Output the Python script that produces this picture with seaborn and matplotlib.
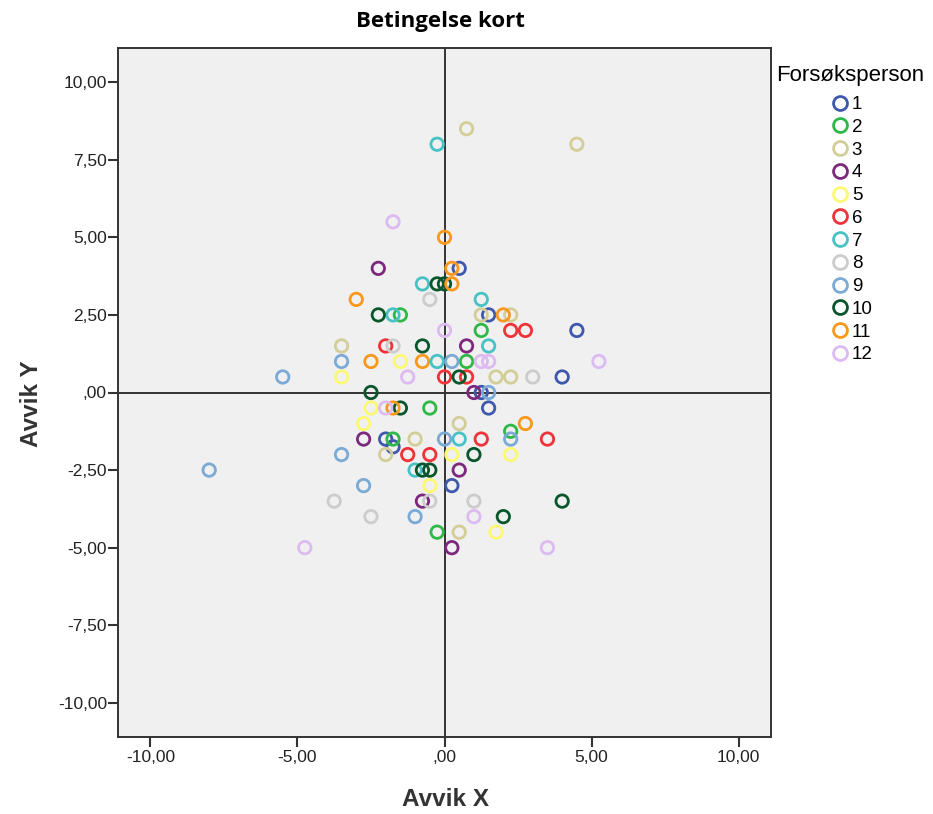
import numpy as np
import pandas as pd
import seaborn as sns
import matplotlib.pyplot as plt
from matplotlib.lines import Line2D
from matplotlib.ticker import FuncFormatter

forsoksperson = (
    [1] * 9 + [2] * 7 + [3] * 11 + [4] * 7 + [5] * 8 + [6] * 9
    + [7] * 8 + [8] * 7 + [9] * 10 + [10] * 12 + [11] * 9 + [12] * 10
)
avvik_x = [
    # 1
    0.5, 1.5, 4.5, 1.25, 4.0, 1.5, -2.0, -1.75, 0.25,
    # 2
    -1.5, 1.25, 0.75, -0.5, -1.75, 2.25, -0.25,
    # 3
    0.75, 4.5, 1.25, 2.25, 1.75, 2.25, -3.5, -1.0, 0.5, -2.0, 0.5,
    # 4
    -2.25, 0.75, 1.0, -2.75, 0.5, -0.75, 0.25,
    # 5
    -1.5, -3.5, -2.5, -2.75, 0.25, 2.25, -0.5, 1.75,
    # 6
    2.25, 2.75, -2.0, 0.0, 0.75, 1.25, 3.5, -1.25, -0.5,
    # 7
    -0.25, -0.75, 1.25, -1.75, 1.5, -0.25, 0.5, -1.0,
    # 8
    -0.5, -1.75, 3.0, -3.75, -0.5, -2.5, 1.0,
    # 9
    0.25, -3.5, -5.5, 1.5, 0.0, 2.25, -3.5, -2.75, -1.0, -8.0,
    # 10
    -0.25, 0.0, -2.25, -0.75, 0.5, -2.5, -1.5, 1.0, -0.75, -0.5, 4.0, 2.0,
    # 11
    0.0, 0.25, 0.25, -3.0, 2.0, -2.5, -0.75, -1.75, 2.75,
    # 12
    -1.75, 0.0, 1.25, 1.5, 5.25, -1.25, -2.0, 1.0, -4.75, 3.5,
]
avvik_y = [
    # 1
    4.0, 2.5, 2.0, 0.0, 0.5, -0.5, -1.5, -1.75, -3.0,
    # 2
    2.5, 2.0, 1.0, -0.5, -1.5, -1.25, -4.5,
    # 3
    8.5, 8.0, 2.5, 2.5, 0.5, 0.5, 1.5, -1.5, -1.0, -2.0, -4.5,
    # 4
    4.0, 1.5, 0.0, -1.5, -2.5, -3.5, -5.0,
    # 5
    1.0, 0.5, -0.5, -1.0, -2.0, -2.0, -3.0, -4.5,
    # 6
    2.0, 2.0, 1.5, 0.5, 0.5, -1.5, -1.5, -2.0, -2.0,
    # 7
    8.0, 3.5, 3.0, 2.5, 1.5, 1.0, -1.5, -2.5,
    # 8
    3.0, 1.5, 0.5, -3.5, -3.5, -4.0, -3.5,
    # 9
    1.0, 1.0, 0.5, 0.0, -1.5, -1.5, -2.0, -3.0, -4.0, -2.5,
    # 10
    3.5, 3.5, 2.5, 1.5, 0.5, 0.0, -0.5, -2.0, -2.5, -2.5, -3.5, -4.0,
    # 11
    5.0, 4.0, 3.5, 3.0, 2.5, 1.0, 1.0, -0.5, -1.0,
    # 12
    5.5, 2.0, 1.0, 1.0, 1.0, 0.5, -0.5, -4.0, -5.0, -5.0,
]
personer = list(range(1, 13))
farger = ["#3E58AC", "#2EB848", "#D3CE97", "#7C287D", "#FBF873", "#EF3338",
          "#48C2C5", "#CCCCCC", "#7AAAD5", "#0A562C", "#F8981D", "#DDBAF1"]

df = pd.DataFrame({"Forsøksperson": forsoksperson,
                   "Avvik X": avvik_x, "Avvik Y": avvik_y})
palette = dict(zip(personer, farger))

fig = plt.figure(figsize=(9.33, 8.14), dpi=100)
ax = fig.add_axes([118 / 933, 1 - 737 / 814, (771 - 118) / 933, (737 - 48) / 814])
ax.set_facecolor("#F0F0F0")

ax.axvline(0, color="#333333", lw=1.4, zorder=1)
ax.axhline(0, color="#333333", lw=1.4, zorder=1)

sns.scatterplot(data=df, x="Avvik X", y="Avvik Y", hue="Forsøksperson",
                palette=palette, s=80, linewidth=2, legend=False, ax=ax, zorder=3)
# open circles: move the hue colour to the edge
coll = ax.collections[-1]
coll.set_edgecolors(coll.get_facecolors())
coll.set_facecolors("none")

ax.set_xlim(-11.1, 11.1)
ax.set_ylim(-11.1, 11.1)
ax.set_xticks([-10, -5, 0, 5, 10])
ax.set_yticks(np.arange(-10, 10.1, 2.5))


def komma(v, pos):
    s = f"{v:.2f}".replace(".", ",")
    if s.startswith("0,"):
        s = s[1:]
    if s.startswith("-0,"):
        s = s[2:]
    return s


ax.xaxis.set_major_formatter(FuncFormatter(komma))
ax.yaxis.set_major_formatter(FuncFormatter(komma))
ax.tick_params(axis="x", length=7.5, width=1.5, color="#333333", pad=2,
               labelsize=12.5, labelcolor="#222222")
ax.tick_params(axis="y", length=7, width=1.5, color="#333333", pad=1,
               labelsize=12.5, labelcolor="#222222")
for lab in ax.get_xticklabels() + ax.get_yticklabels():
    lab.set_family("Liberation Sans")
for sp in ax.spines.values():
    sp.set_color("#333333")
    sp.set_linewidth(1.4)

ax.set_xlabel("Avvik X", fontsize=17.5, fontweight="bold", family="Liberation Sans",
              color="#333333")
ax.set_ylabel("Avvik Y", fontsize=17.5, fontweight="bold", family="Liberation Sans",
              color="#333333")
ax.xaxis.label.set_va("center")
ax.yaxis.label.set_va("center")
ax.xaxis.set_label_coords((445 - 118) / 653, (737 - 800) / 689)
ax.yaxis.set_label_coords((32 - 118) / 653, (737 - 404) / 689)
fig.text(440 / 933, 1 - 22 / 814, "Betingelse kort", ha="center", va="center",
         fontsize=16, fontweight="bold", family="Open Sans")

handles = [Line2D([], [], marker="o", ls="none", markersize=10,
                  markerfacecolor="none", markeredgecolor=c, markeredgewidth=2)
           for c in farger]
leg = fig.legend(handles, [str(p) for p in personer], title="Forsøksperson",
                 loc="upper left", bbox_to_anchor=(767 / 933, 1 - 56 / 814),
                 frameon=False, fontsize=13.5, title_fontsize=16,
                 labelspacing=0.3, handletextpad=0.05, handlelength=1.2,
                 borderpad=0)
leg.get_title().set_family("Liberation Sans")
for t in leg.get_texts():
    t.set_family("Liberation Sans")
leg._legend_box.sep = 7

fig.savefig("out.png", dpi=100)
